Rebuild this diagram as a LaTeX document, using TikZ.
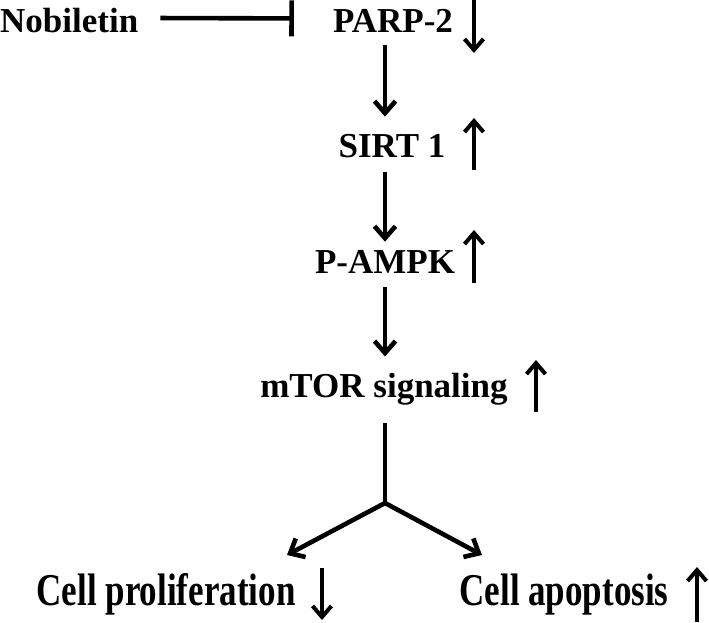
\documentclass[tikz,border=0pt]{standalone}
\usepackage{fontspec}
\setmainfont{Liberation Serif}
\usetikzlibrary{arrows.meta}

\tikzset{
	mol/.style={font=\fontsize{35}{40}\selectfont\bfseries, inner sep=0pt, anchor=base},
	flow/.style={line width=4.6pt, -{Straight Barb[length=12pt,width=21pt]}},
	trend/.style={line width=4pt, -{Straight Barb[length=11pt,width=19pt]}},
	block/.style={line width=4.6pt, -{Bar[width=36pt]}}
}

\begin{document}
\begin{tikzpicture}[x=1pt,y=-1pt]
		\useasboundingbox (0,0) rectangle (709,622);
		
		% Pathway labels
		\node[mol, anchor=base west] (nobiletin) at (0,32) {Nobiletin};
		\node[mol] (parp) at (393,32) {PARP-2};
		\node[mol] (sirt) at (392,157) {SIRT 1};
		\node[mol] (ampk) at (385,273) {P-AMPK};
		\node[mol] (mtor) at (384,397) {mTOR signaling};
		\node[mol] (prolif) at (166,605) {\scalebox{1}[1.3]{Cell proliferation}};
		\node[mol] (apop) at (564,605) {\scalebox{1}[1.3]{Cell apoptosis}};
		
		% Inhibition of PARP-2
		\draw[block] ([xshift=22pt,yshift=2pt]nobiletin.east) -- ([xshift=-39pt,yshift=2pt]parp.west);
		
		% Main cascade
		\coordinate (axis) at (385,0);
		\draw[flow] ([yshift=-13pt]parp.south -| axis) -- ([yshift=17pt]sirt.north -| axis);
		\draw[flow] ([yshift=-14pt]sirt.south -| axis) -- ([yshift=8pt]ampk.north -| axis);
		\draw[flow] ([yshift=-14pt]ampk.south -| axis) -- ([yshift=16pt]mtor.north -| axis);
		
		% Branching to outcomes
		\coordinate (split) at (385,503);
		\coordinate (tipL) at (287,555);
		\coordinate (tipR) at (482,555);
		\draw[line width=4.6pt] ([yshift=-18pt]mtor.south -| axis) -- (split);
		\draw[flow] (split) -- (tipL);
		\draw[flow] (split) -- (tipR);
		
		% Up / down changes
		\draw[trend] (474,0) -- (474,53);
		\draw[trend] (474,170) -- (474,118);
		\draw[trend] (474,283) -- (474,230);
		\draw[trend] (536,412) -- (536,360);
		\draw[trend] (322,568) -- (322,620);
		\draw[trend] (697,622) -- (697,567);
		
	\end{tikzpicture}
\end{document}
